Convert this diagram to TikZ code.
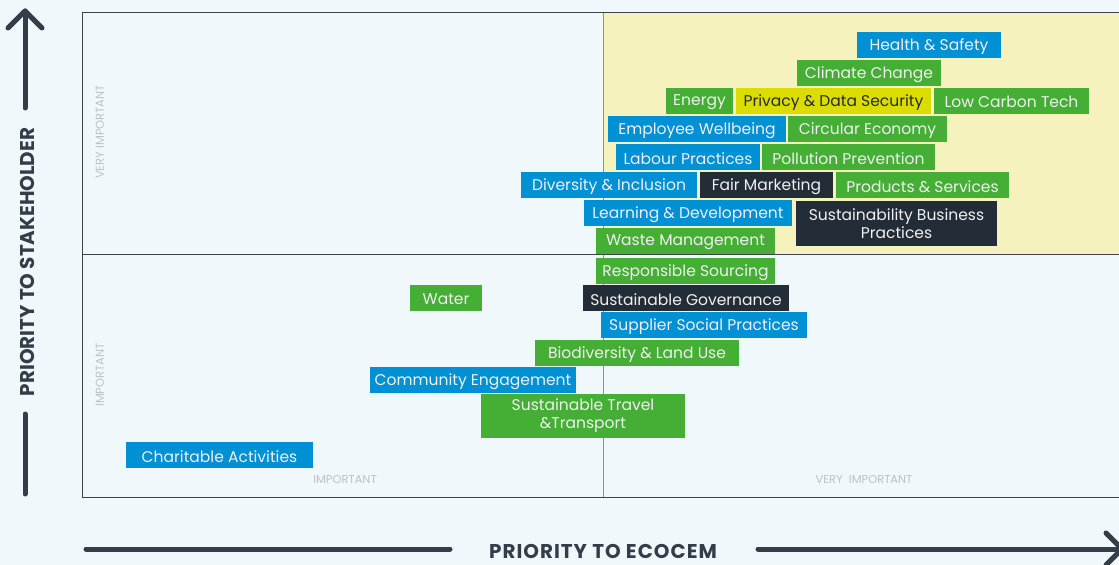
\documentclass[tikz,border=0pt]{standalone}
\usepackage{fontspec}
\newfontfamily\pop{Poppins}
\usetikzlibrary{calc}
\definecolor{bgc}{HTML}{F1F8FC}
\definecolor{quad}{HTML}{F5F2BE}
\definecolor{blu}{HTML}{0090D4}
\definecolor{grn}{HTML}{45AE35}
\definecolor{drk}{HTML}{232D38}
\definecolor{ylw}{HTML}{DCDC00}
\definecolor{axc}{HTML}{333E48}
\definecolor{frm}{HTML}{3C4349}
\definecolor{midl}{HTML}{8C9196}
\definecolor{lgr}{HTML}{BDC1C5}
\tikzset{
  tag/.style={rectangle, inner sep=0pt, text=white!94!black, align=center,
    font=\pop\fontsize{15.6}{18}\selectfont},
  axlabel/.style={text=axc, font=\pop\bfseries\fontsize{20}{22}\selectfont},
  small/.style={text=lgr, font=\pop\fontsize{11.5}{13}\selectfont},
  axarrow/.style={draw=axc, line width=5bp, line cap=round, line join=round},
}
\newcommand{\tagbox}[8]{%
  \fill[#2] (#3,#4) rectangle (#5,#6);
  \node[tag, #8] (#1) at ({(#3+#5)/2},{(#4+#6)/2+1.5}) {#7};}
\begin{document}
\begin{tikzpicture}[x=1bp, y=-1bp]
\fill[bgc] (0,0) rectangle (1119,565);
\useasboundingbox (0,0) rectangle (1119,565);
% quadrant
\fill[quad] (603,13) rectangle (1119,255);
% frame
\draw[midl, line width=1bp] (603,13) -- (603,497);
\draw[frm, line width=1bp] (1119,13) -- (82,13) -- (82,497) -- (1119,497);
\draw[frm, line width=1bp] (82,255) -- (1119,255);
% small labels
\node[small, rotate=90] (vil) at (100,132) {VERY IMPORTANT};
\node[small, rotate=90] (il) at (100,375) {IMPORTANT};
\node[small] (ib) at (345,479) {IMPORTANT};
\node[small] (vib) at (864,479) {VERY\ \ IMPORTANT};
% boxes
\tagbox{hs}{blu}{857}{32}{1001}{58}{Health \& Safety}{}
\tagbox{cc}{grn}{797}{60}{941}{86}{Climate Change}{}
\tagbox{en}{grn}{666}{88}{733}{114}{\raisebox{-1.5bp}{Energy}}{}
\tagbox{pds}{ylw}{736}{88}{931}{114}{Privacy \& Data Security}{text=drk}
\tagbox{lct}{grn}{934}{88}{1089}{114}{\raisebox{1bp}{Low Carbon Tech}}{}
\tagbox{ew}{blu}{608}{116}{786}{142}{Employee Wellbeing}{}
\tagbox{ce}{grn}{788}{116}{947}{142}{Circular Economy}{}
\tagbox{lp}{blu}{616}{144}{760}{170}{Labour Practices}{}
\tagbox{pp}{grn}{762}{144}{935}{170}{Pollution Prevention}{}
\tagbox{di}{blu}{521}{172}{697}{198}{Diversity \& Inclusion}{}
\tagbox{fm}{drk}{700}{172}{833}{198}{Fair Marketing}{}
\tagbox{ps}{grn}{836}{172}{1009}{198}{Products \& Services}{}
\tagbox{ld}{blu}{584}{200}{792}{226}{Learning \& Development}{}
\tagbox{sbp}{drk}{796}{201}{997}{246}{Sustainability Business\\Practices}{yshift=1.5bp}
\tagbox{wm}{grn}{596}{228}{775}{254}{Waste Management}{}
\tagbox{rs}{grn}{596}{258}{775}{284}{Responsible Sourcing}{}
\tagbox{wa}{grn}{410}{285}{482}{311}{Water}{}
\tagbox{sg}{drk}{583}{285}{789}{311}{Sustainable Governance}{}
\tagbox{ssp}{blu}{601}{312}{807}{338}{Supplier Social Practices}{}
\tagbox{blu}{grn}{535}{340}{739}{366}{Biodiversity \& Land Use}{}
\tagbox{cen}{blu}{370}{367}{576}{393}{Community Engagement}{}
\tagbox{stt}{grn}{481}{394}{685}{438}{Sustainable Travel\\\&Transport}{yshift=1.5bp}
\tagbox{ca}{blu}{126}{442}{313}{468}{Charitable Activities}{}
% axis titles
\node[axlabel, rotate=90] (ylab) at (27,262) {PRIORITY TO STAKEHOLDER};
\node[axlabel, font=\pop\bfseries\fontsize{20}{22}\selectfont\addfontfeature{LetterSpace=5}] (xlab) at (603,551) {PRIORITY TO ECOCEM};
% vertical axis arrow
\coordinate (ytip) at (25,11);
\coordinate (ytop) at (25,108);
\coordinate (ybot1) at (25,414);
\coordinate (ybot2) at (25,494);
\draw[axarrow] (ytop) -- (ytip);
\draw[axarrow] ($(ytip)+(-17,17)$) -- (ytip) -- ($(ytip)+(17,17)$);
\draw[axarrow] (ybot1) -- (ybot2);
% horizontal axis arrow
\coordinate (xl1) at (86,549);
\coordinate (xl2) at (450,549);
\coordinate (xr1) at (758,549);
\coordinate (xtip) at (1122,549);
\draw[axarrow] (xl1) -- (xl2);
\draw[axarrow] (xr1) -- (xtip);
\draw[axarrow] ($(xtip)+(-16,-16)$) -- (xtip) -- ($(xtip)+(-16,16)$);
\end{tikzpicture}
\end{document}
